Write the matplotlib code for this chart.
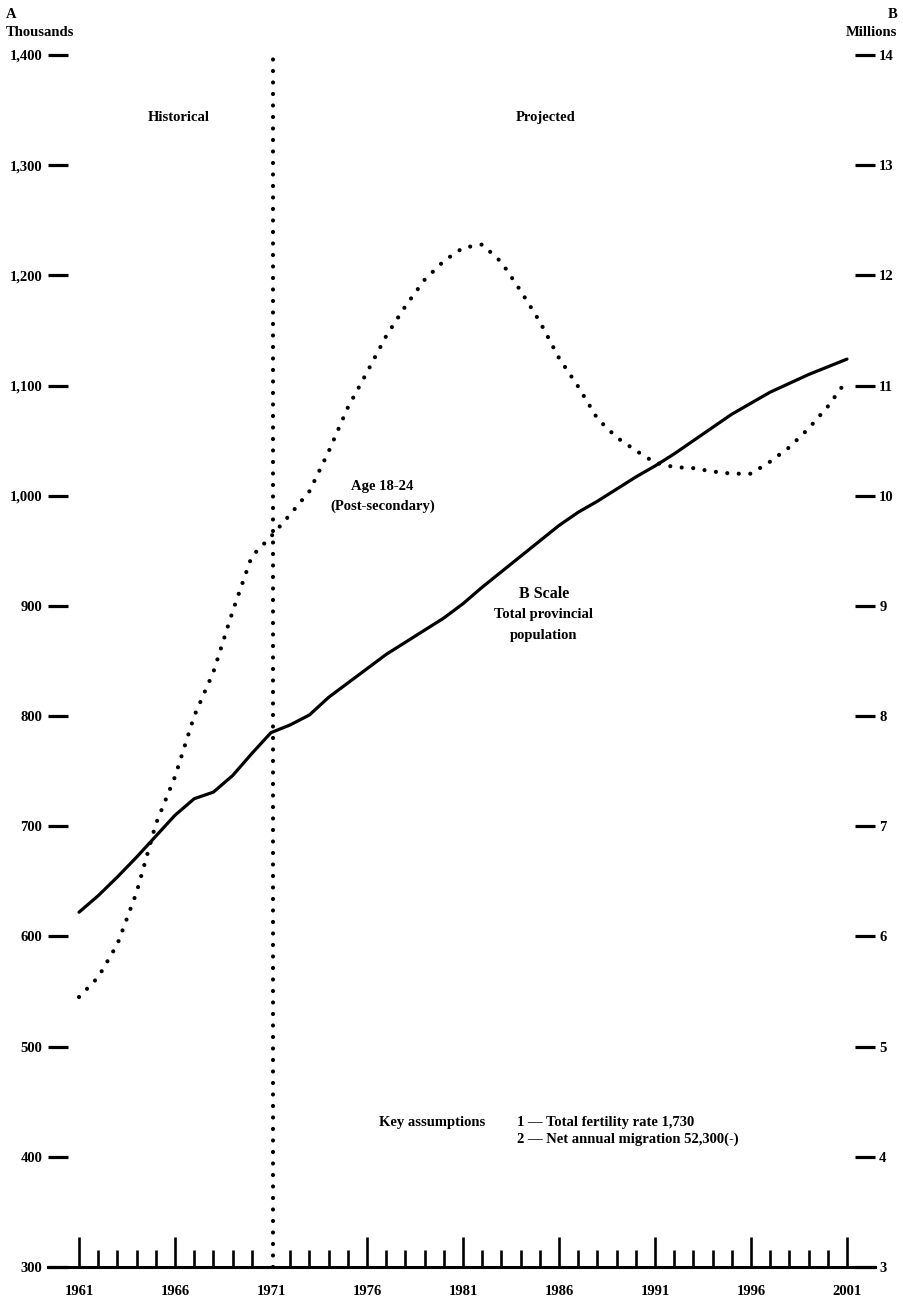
import matplotlib
matplotlib.use("Agg")
import matplotlib.pyplot as plt
from matplotlib.ticker import FixedLocator, FuncFormatter

# ---------------- data ----------------
years = list(range(1961, 2002))
total_pop_millions = [6.22, 6.37, 6.54, 6.72, 6.91, 7.10, 7.25, 7.31, 7.46, 7.66,
                      7.85, 7.92, 8.01, 8.17, 8.30, 8.43, 8.56, 8.67, 8.78, 8.89,
                      9.02, 9.17, 9.31, 9.45, 9.59, 9.73, 9.85, 9.95, 10.06, 10.17,
                      10.27, 10.38, 10.50, 10.62, 10.74, 10.84, 10.94, 11.02, 11.10, 11.17, 11.24]
age_18_24_thousands = [545, 563, 593, 640, 702, 745, 800, 840, 895, 945,
                       963, 983, 1004, 1040, 1080, 1112, 1145, 1172, 1196, 1213,
                       1225, 1228, 1212, 1186, 1158, 1125, 1099, 1070, 1053, 1041,
                       1030, 1026, 1025, 1022, 1020, 1020, 1031, 1044, 1061, 1081, 1105]
split_year = 1971.1
left_ticks = [300, 400, 500, 600, 700, 800, 900, 1000, 1100, 1200, 1300, 1400]
right_ticks = [3, 4, 5, 6, 7, 8, 9, 10, 11, 12, 13, 14]
major_years = [1961, 1966, 1971, 1976, 1981, 1986, 1991, 1996, 2001]

FONT = "Liberation Serif"
plt.rcParams["font.family"] = [FONT, "DejaVu Serif"]
plt.rcParams["font.weight"] = "bold"

W, H = 904, 1301
fig = plt.figure(figsize=(W / 100, H / 100), dpi=100)
ax = fig.add_axes([48 / W, 1 - 1267 / H, (875 - 48) / W, (1267 - 55) / H])
ax.set_xlim(1961 - 31 / 19.2, 2001 + 28 / 19.2)
ax.set_ylim(300, 1400)

dot_style = (0, (0.01, 2.75))
ax.plot(years, age_18_24_thousands, color="black", lw=3.0,
        linestyle=dot_style, dash_capstyle="round", zorder=3)
ax.axvline(split_year, color="black", lw=3.0, linestyle=dot_style,
           dash_capstyle="round", zorder=3)

ax2 = ax.twinx()
ax2.set_ylim(3, 14)
ax2.plot(years, total_pop_millions, color="black", lw=2.3, solid_capstyle="round", zorder=3)

for a in (ax, ax2):
    for s in ("top", "left", "right"):
        a.spines[s].set_visible(False)
ax2.spines["bottom"].set_visible(False)
ax.spines["bottom"].set_linewidth(2.2)

ax.xaxis.set_major_locator(FixedLocator(major_years))
ax.xaxis.set_minor_locator(FixedLocator([y for y in years if y not in major_years]))
ax.tick_params(axis="x", which="major", direction="in", length=21.6, width=1.9,
               pad=13, labelsize=10.5)
ax.tick_params(axis="x", which="minor", direction="in", length=12.2, width=1.9)
ax.xaxis.get_major_ticks()[2].tick1line.set_visible(False)

ax.yaxis.set_major_locator(FixedLocator(left_ticks))
ax.yaxis.set_major_formatter(FuncFormatter(lambda v, p: f"{int(v):,}"))
ax.tick_params(axis="y", direction="in", length=14.4, width=2.3, pad=4, labelsize=10.5)

ax2.yaxis.set_major_locator(FixedLocator(right_ticks))
ax2.yaxis.set_major_formatter(FuncFormatter(lambda v, p: f"{int(v)}"))
ax2.tick_params(axis="y", direction="in", length=14.4, width=2.3, pad=3, labelsize=10.5)

fig.text(6 / W, 1 - 14 / H, "A", ha="left", va="center", fontsize=10.5)
fig.text(6 / W, 1 - 33 / H, "Thousands", ha="left", va="center", fontsize=10.5)
fig.text(897 / W, 1 - 14 / H, "B", ha="right", va="center", fontsize=10.5)
fig.text(897 / W, 1 - 33 / H, "Millions", ha="right", va="center", fontsize=10.5)

kw = dict(fontsize=10.5, color="black")
ax.text(1966.2, 1343, "Historical", ha="center", va="center", **kw)
ax.text(1985.3, 1343, "Projected", ha="center", va="center", **kw)
ax.text(1976.8, 1008, "Age 18-24", ha="center", va="center", **kw)
ax.text(1976.8, 990, "(Post-secondary)", ha="center", va="center", **kw)
ax.text(1985.2, 911, "B Scale", ha="center", va="center", fontsize=11.5)
ax.text(1985.2, 892, "Total provincial", ha="center", va="center", **kw)
ax.text(1985.2, 873, "population", ha="center", va="center", **kw)
ax.text(1976.6, 431, "Key assumptions", ha="left", va="center", **kw)
ax.text(1983.8, 431, "1 \u2014 Total fertility rate 1,730", ha="left", va="center", **kw)
ax.text(1983.8, 416, "2 \u2014 Net annual migration 52,300(-)", ha="left", va="center", **kw)

fig.savefig("out.png", dpi=100)
